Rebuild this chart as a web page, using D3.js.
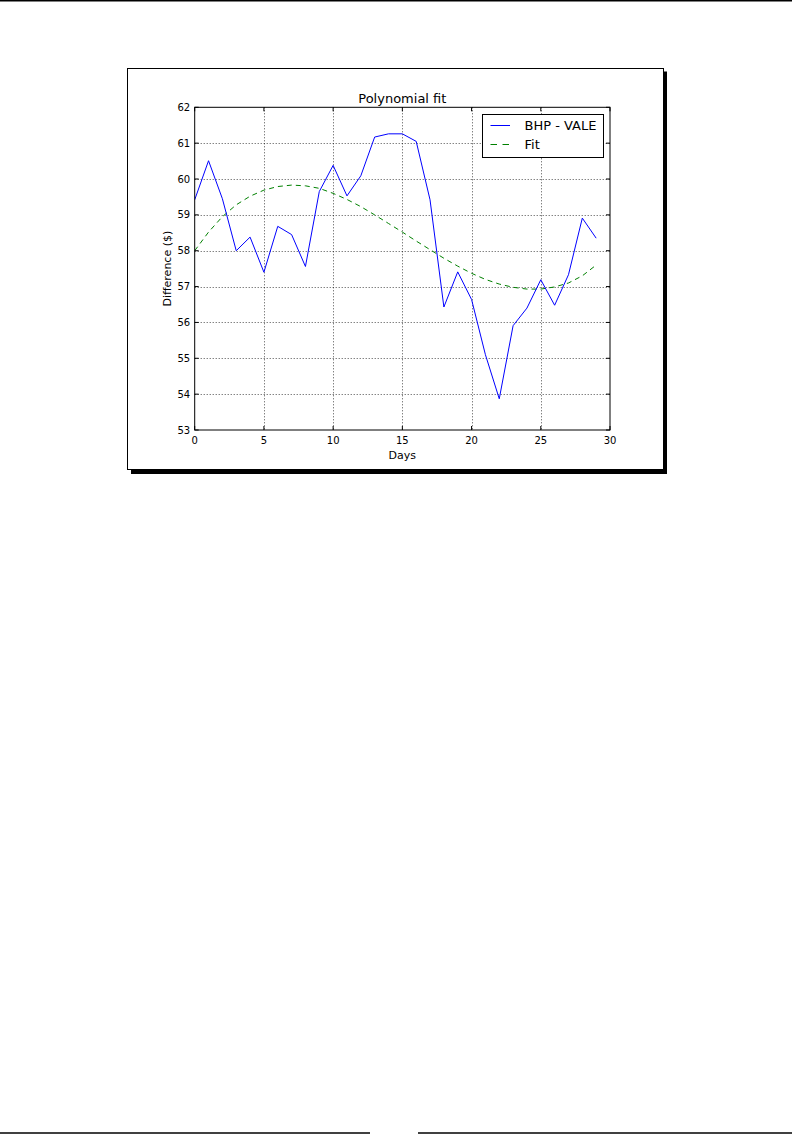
<!DOCTYPE html>
<html>
<head>
<meta charset="utf-8">
<script src="https://cdn.jsdelivr.net/npm/d3@7"></script>
<style>
  html, body { margin: 0; padding: 0; background: #fff; }
  svg { display: block; }
  text { font-family: "DejaVu Sans", sans-serif; }
</style>
</head>
<body>
<svg id="page" width="792" height="1142"></svg>
<script>
// ---- data ----
const days = d3.range(0, 30);
const bhpVale = [59.42, 60.51, 59.45, 58.00, 58.38, 57.40, 58.68, 58.45, 57.56, 59.65,
                 60.38, 59.53, 60.09, 61.17, 61.26, 61.26, 61.05, 59.42, 56.43, 57.41,
                 56.64, 55.10, 53.87, 55.91, 56.40, 57.19, 56.48, 57.33, 58.91, 58.35];
const fitValues = [58.00, 58.52, 58.95, 59.28, 59.52, 59.69, 59.79, 59.83, 59.81, 59.74,
                   59.60, 59.43, 59.23, 59.00, 58.76, 58.52, 58.27, 58.03, 57.79, 57.57,
                   57.37, 57.20, 57.07, 56.98, 56.93, 56.93, 56.99, 57.10, 57.30, 57.60];
const xTicks = [0, 5, 10, 15, 20, 25, 30];
const yTicks = [53, 54, 55, 56, 57, 58, 59, 60, 61, 62];
const seriesNames = ["BHP - VALE", "Fit"];
const titleText = "Polynomial fit";
const xLabel = "Days";
const yLabel = "Difference ($)";

// ---- layout ----
const svg = d3.select("#page");
const L = 194.7, R = 610, T = 107.3, B = 430;
const x = d3.scaleLinear().domain([0, 30]).range([L, R]);
const y = d3.scaleLinear().domain([53, 62]).range([B, T]);

// page rules
svg.append("line").attr("x1", 0).attr("x2", 792).attr("y1", 0.75).attr("y2", 0.75)
  .attr("stroke", "#000").attr("stroke-width", 1.5);
svg.append("line").attr("x1", 0).attr("x2", 370).attr("y1", 1133).attr("y2", 1133)
  .attr("stroke", "#000").attr("stroke-width", 1.3);
svg.append("line").attr("x1", 418).attr("x2", 792).attr("y1", 1133).attr("y2", 1133)
  .attr("stroke", "#000").attr("stroke-width", 1.3);

// figure frame with shadow
svg.append("rect").attr("x", 131).attr("y", 71.5).attr("width", 536).attr("height", 402.5)
  .attr("fill", "#000");
svg.append("rect").attr("x", 127.5).attr("y", 68.5).attr("width", 536).attr("height", 401)
  .attr("fill", "#fff").attr("stroke", "#000").attr("stroke-width", 1);

// grid
const g = svg.append("g");
g.selectAll(".gx").data(xTicks.filter(d => d > 0 && d < 30)).join("line")
  .attr("x1", d => Math.round(x(d)) + 0.5).attr("x2", d => Math.round(x(d)) + 0.5)
  .attr("y1", T).attr("y2", B)
  .attr("stroke", "#000").attr("stroke-opacity", 0.7).attr("stroke-width", 1)
  .attr("stroke-dasharray", "1,2");
g.selectAll(".gy").data(yTicks.filter(d => d > 53 && d < 62)).join("line")
  .attr("y1", d => Math.round(y(d)) + 0.5).attr("y2", d => Math.round(y(d)) + 0.5)
  .attr("x1", L).attr("x2", R)
  .attr("stroke", "#000").attr("stroke-opacity", 0.7).attr("stroke-width", 1)
  .attr("stroke-dasharray", "1,2");

// lines
const clip = svg.append("clipPath").attr("id", "clip").append("rect")
  .attr("x", L).attr("y", T).attr("width", R - L).attr("height", B - T);
const lineGen = d3.line().x((d, i) => x(days[i])).y(d => y(d));
svg.append("path").datum(fitValues).attr("d", lineGen)
  .attr("fill", "none").attr("stroke", "#008000").attr("stroke-width", 1)
  .attr("stroke-dasharray", "5,4").attr("clip-path", "url(#clip)");
svg.append("path").datum(bhpVale).attr("d", lineGen)
  .attr("fill", "none").attr("stroke", "#0000ff").attr("stroke-width", 1)
  .attr("clip-path", "url(#clip)");

// axes spines
svg.append("rect").attr("x", L).attr("y", T).attr("width", R - L).attr("height", B - T)
  .attr("fill", "none").attr("stroke", "#000").attr("stroke-width", 1);

// inward ticks on all sides
const tk = 4;
svg.append("g").selectAll("line").data(xTicks).join("line")
  .attr("x1", d => x(d)).attr("x2", d => x(d)).attr("y1", B).attr("y2", B - tk)
  .attr("stroke", "#000");
svg.append("g").selectAll("line").data(xTicks).join("line")
  .attr("x1", d => x(d)).attr("x2", d => x(d)).attr("y1", T).attr("y2", T + tk)
  .attr("stroke", "#000");
svg.append("g").selectAll("line").data(yTicks).join("line")
  .attr("y1", d => y(d)).attr("y2", d => y(d)).attr("x1", L).attr("x2", L + tk)
  .attr("stroke", "#000");
svg.append("g").selectAll("line").data(yTicks).join("line")
  .attr("y1", d => y(d)).attr("y2", d => y(d)).attr("x1", R).attr("x2", R - tk)
  .attr("stroke", "#000");

// tick labels
svg.append("g").selectAll("text").data(xTicks).join("text")
  .attr("x", d => x(d)).attr("y", 443.5).attr("text-anchor", "middle")
  .attr("font-size", 10).text(d => d);
svg.append("g").selectAll("text").data(yTicks).join("text")
  .attr("x", L - 4.5).attr("y", d => y(d) + 3.6).attr("text-anchor", "end")
  .attr("font-size", 10).text(d => d);

// labels and title
svg.append("text").attr("x", (L + R) / 2).attr("y", 459).attr("text-anchor", "middle")
  .attr("font-size", 11).text(xLabel);
svg.append("text").attr("transform", `translate(171,${(T + B) / 2}) rotate(-90)`)
  .attr("text-anchor", "middle").attr("font-size", 11).text(yLabel);
svg.append("text").attr("x", (L + R) / 2).attr("y", 103).attr("text-anchor", "middle")
  .attr("font-size", 13).text(titleText);

// legend
const lg = svg.append("g");
lg.append("rect").attr("x", 482.5).attr("y", 114.5).attr("width", 121).attr("height", 43)
  .attr("fill", "#fff").attr("stroke", "#000").attr("stroke-width", 1);
const legendStyles = [
  { color: "#0000ff", dash: null, ly: 125.5, ty: 130 },
  { color: "#008000", dash: "6.5,5.5", ly: 144.5, ty: 149 }
];
seriesNames.forEach((name, i) => {
  const s = legendStyles[i];
  const ln = lg.append("line").attr("x1", 490.5).attr("x2", 510).attr("y1", s.ly).attr("y2", s.ly)
    .attr("stroke", s.color).attr("stroke-width", 1);
  if (s.dash) ln.attr("stroke-dasharray", s.dash);
  lg.append("text").attr("x", 524.5).attr("y", s.ty).attr("font-size", 13).text(name);
});
</script>
</body>
</html>
